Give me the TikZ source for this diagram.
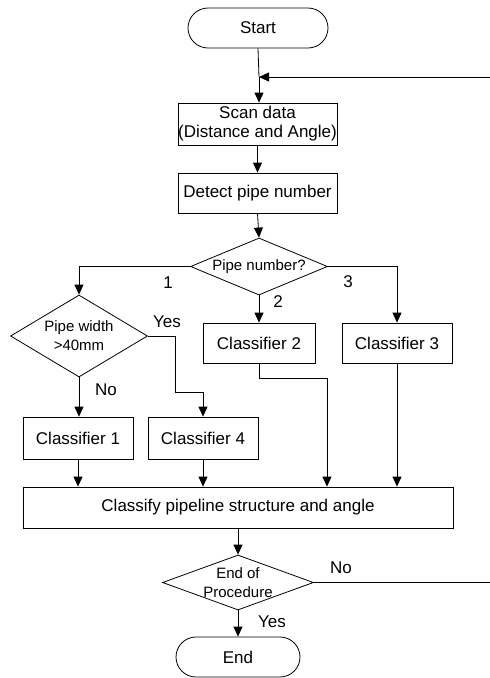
\documentclass[tikz,border=0pt]{standalone}
\usepackage{fontspec}
\setmainfont{Liberation Sans}
\usetikzlibrary{shapes.geometric,arrows.meta}
\begin{document}
\begin{tikzpicture}[x=1pt,y=-1pt,
  every node/.style={font=\fontsize{17}{19}\selectfont},
  term/.style={draw,rectangle,rounded corners=20pt,minimum height=40pt,inner sep=0pt},
  proc/.style={draw,rectangle,minimum height=40pt,inner sep=0pt,align=center},
  decide/.style={draw,diamond,inner sep=-4pt,align=center,font=\fontsize{15}{19}\selectfont},
  lbl/.style={inner sep=0pt},
  arr/.style={-{Triangle[length=10pt,width=9pt]}},
  line width=0.8pt]
\useasboundingbox (0,0) rectangle (490,678);
% nodes
\node[term,minimum width=140pt] (start) at (258,28) {Start};
\node[proc,minimum width=159pt,minimum height=42pt] (scan) at (257.5,124) {Scan data\\(Distance and Angle)};
\node[proc,minimum width=159pt] (detect) at (257.5,193) {Detect pipe number};
\node[decide,minimum width=137pt,minimum height=57pt,shape aspect=2.4] (pq) at (259,266.5) {Pipe number?};
\node[decide,minimum width=137pt,minimum height=82pt,shape aspect=1.67] (pw) at (79,336) {Pipe width\\>40mm};
\node[proc,minimum width=112pt] (cl2) at (259,343) {Classifier 2};
\node[proc,minimum width=110pt] (cl3) at (397,343) {Classifier 3};
\node[proc,minimum width=110pt,minimum height=42pt] (cl1) at (78,438) {Classifier 1};
\node[proc,minimum width=110pt,minimum height=42pt] (cl4) at (203,438) {Classifier 4};
\node[proc,minimum width=430pt,minimum height=41pt] (cf) at (238,507.5) {Classify pipeline structure and angle};
\node[decide,minimum width=151pt,minimum height=55pt,shape aspect=2.75] (endq) at (238,582.5) {End of\\Procedure};
\node[term,minimum width=124pt] (end) at (238,657) {End};
% labels
\node[lbl] (l1) at (168,283) {1};
\node[lbl] (l2) at (278,302) {2};
\node[lbl] (l3) at (348,282) {3};
\node[lbl] (lyes1) at (167,322) {Yes};
\node[lbl] (lno1) at (106,390) {No};
\node[lbl] (lno2) at (341,568) {No};
\node[lbl] (lyes2) at (272,622) {Yes};
% coordinates
\coordinate (loopin) at (490,77);
\coordinate (join) at (259,77);
\coordinate (loopout) at (490,582.5);
\coordinate (ya) at (175,336);
\coordinate (yb) at (175,392);
\coordinate (b2) at (327,378);
% connectors
\draw (start.south) -- (join);
\draw[arr] (loopin) -- (join);
\draw[arr] (join) -- (scan.north -| join);
\draw[arr] (scan.south) -- (detect.north);
\draw[arr] (detect.south) -- (pq.north);
\draw[arr] (pq.west) -| (pw.north);
\draw[arr] (pq.south) -- (cl2.north);
\draw[arr] (pq.east) -| (cl3.north);
\draw[arr] (pw.south) -- (pw.south |- cl1.north);
\draw[arr] (pw.east) -- (ya) -- (yb) -| (cl4.north);
\draw[arr] (cl1.south) -- (cl1.south |- cf.north);
\draw[arr] (cl4.south) -- (cl4.south |- cf.north);
\draw[arr] (cl2.south) |- (b2) -- (b2 |- cf.north);
\draw[arr] (cl3.south) -- (cl3.south |- cf.north);
\draw[arr] (cf.south) -- (endq.north);
\draw (endq.east) -- (loopout);
\draw[arr] (endq.south) -- (end.north);
\end{tikzpicture}
\end{document}
